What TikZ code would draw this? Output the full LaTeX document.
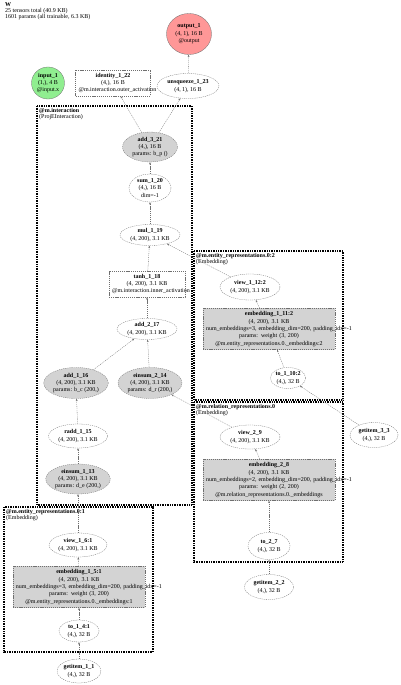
\documentclass[tikz,border=0pt]{standalone}
\usepackage{fontspec}
\setmainfont{Liberation Serif}
\usepackage{tikz}
\usetikzlibrary{arrows.meta,shapes.geometric}
\definecolor{OutputFill}{HTML}{FF9797}
\definecolor{InputFill}{HTML}{90EE90}
\definecolor{ParamFill}{HTML}{D3D3D3}
\definecolor{EdgeGray}{HTML}{6F6F6F}
\newcommand{\graphfont}{\fontsize{6}{7.4}\selectfont}
\newcommand{\clusterfont}{\fontsize{6}{6.2}\selectfont}

\tikzset{
    base/.style={draw=EdgeGray, line width=0.3pt, dash pattern=on 1.2pt off 0.9pt,
        inner sep=0pt, align=center, font=\graphfont},
    op/.style={base, ellipse},
    paramop/.style={op, fill=ParamFill},
    modbox/.style={base, rectangle, inner sep=3pt},
    embbox/.style={modbox, fill=ParamFill, minimum width=132pt, text width=126pt, minimum height=39pt},
    flow/.style={draw=EdgeGray, line width=0.3pt, dash pattern=on 1.2pt off 0.9pt,
        -{Stealth[length=2.4pt,width=1.8pt]}},
    cluster/.style={draw=black, line width=1.5pt, dash pattern=on 1pt off 0.7pt},
    clusterlabel/.style={anchor=north west, align=left, inner sep=0pt, font=\clusterfont}
}

\begin{document}
\begin{tikzpicture}[x=1pt, y=-1pt]
    \useasboundingbox (0,0) rectangle (400,685);

    % header
    \node[anchor=north west, align=left, inner sep=0pt, font=\clusterfont] (header) at (5,2)
        {\textbf{W}\\25 tensors total (40.9 KB)\\1601 params (all trainable, 6.3 KB)};

    % module boxes
    \draw[cluster] (37,106) rectangle (192,505);
    \draw[cluster] (194,251) rectangle (343,400);
    \draw[cluster] (194,402) rectangle (343,562);
    \draw[cluster] (4,507) rectangle (153,652);
    \node[clusterlabel] (lblint) at (39,108) {\textbf{@m.interaction}\\(ProjEInteraction)};
    \node[clusterlabel] (lblent2) at (196,253) {\textbf{@m.entity\_representations.0:2}\\(Embedding)};
    \node[clusterlabel] (lblrel) at (196,404) {\textbf{@m.relation\_representations.0}\\(Embedding)};
    \node[clusterlabel] (lblent1) at (6,509) {\textbf{@m.entity\_representations.0:1}\\(Embedding)};

    % outputs and inputs
    \node[op, draw=EdgeGray, solid, fill=OutputFill, minimum width=45pt, minimum height=41pt] (out1) at (189,34)
        {\textbf{output\_1}\\(4, 1), 16 B\\@output};
    \node[op, solid, fill=InputFill, minimum width=33pt, minimum height=32pt] (in1) at (48,83)
        {\textbf{input\_1}\\(1,), 4 B\\@input.x};
    \node[modbox, minimum width=75pt, minimum height=22pt, text width=69pt] (ident22) at (113,83)
        {\textbf{identity\_1\_22}\\(4,), 16 B\\\mbox{@m.interaction.outer\_activation}};
    \node[op, minimum width=62pt, minimum height=25pt] (unsq23) at (188,86)
        {\textbf{unsqueeze\_1\_23}\\(4, 1), 16 B};

    % interaction
    \node[paramop, minimum width=55pt, minimum height=30pt] (add321) at (150,147)
        {\textbf{add\_3\_21}\\(4,), 16 B\\params: b\_p ()};
    \node[op, minimum width=42pt, minimum height=28pt] (sum20) at (150,188)
        {\textbf{sum\_1\_20}\\(4,), 16 B\\dim=-1};
    \node[op, minimum width=60pt, minimum height=21pt] (mul19) at (150,235)
        {\textbf{mul\_1\_19}\\(4, 200), 3.1 KB};
    \node[modbox, minimum width=76pt, minimum height=25pt, text width=70pt] (tanh18) at (147,284)
        {\textbf{tanh\_1\_18}\\(4, 200), 3.1 KB\\\mbox{@m.interaction.inner\_activation}};
    \node[op, minimum width=60pt, minimum height=21pt] (add217) at (147,329)
        {\textbf{add\_2\_17}\\(4, 200), 3.1 KB};
    \node[paramop, minimum width=59pt, minimum height=31pt] (add116) at (76,383)
        {\textbf{add\_1\_16}\\(4, 200), 3.1 KB\\params: b\_c (200,)};
    \node[paramop, minimum width=64pt, minimum height=31pt] (ein214) at (150,383)
        {\textbf{einsum\_2\_14}\\(4, 200), 3.1 KB\\params: d\_r (200,)};
    \node[op, minimum width=59pt, minimum height=24pt] (radd15) at (78,436)
        {\textbf{radd\_1\_15}\\(4, 200), 3.1 KB};
    \node[paramop, minimum width=60pt, minimum height=30pt] (ein113) at (78,479)
        {\textbf{einsum\_1\_13}\\(4, 200), 3.1 KB\\params: d\_e (200,)};

    % entity representations 0:2
    \node[op, minimum width=60pt, minimum height=26pt] (view12) at (250,287)
        {\textbf{view\_1\_12:2}\\(4, 200), 3.1 KB};
    \node[embbox] (emb11) at (269,329)
        {\textbf{embedding\_1\_11:2}\\(4, 200), 3.1 KB\\\mbox{num\_embeddings=3, embedding\_dim=200, padding\_idx=-1}\\params: weight (3, 200)\\@m.entity\_representations.0.\_embeddings:2};
    \node[op, minimum width=35pt, minimum height=21pt] (to10) at (288,378)
        {\textbf{to\_1\_10:2}\\(4,), 32 B};
    \node[op, minimum width=48pt, minimum height=25pt] (get33) at (374,435)
        {\textbf{getitem\_3\_3}\\(4,), 32 B};

    % relation representations
    \node[op, minimum width=60pt, minimum height=24pt] (view29) at (250,437)
        {\textbf{view\_2\_9}\\(4, 200), 3.1 KB};
    \node[embbox] (emb28) at (269,480)
        {\textbf{embedding\_2\_8}\\(4, 200), 3.1 KB\\\mbox{num\_embeddings=2, embedding\_dim=200, padding\_idx=-1}\\params: weight (2, 200)\\@m.relation\_representations.0.\_embeddings};
    \node[op, minimum width=42pt, minimum height=27pt] (to27) at (269,546)
        {\textbf{to\_2\_7}\\(4,), 32 B};
    \node[op, minimum width=49pt, minimum height=25pt] (get22) at (269,587)
        {\textbf{getitem\_2\_2}\\(4,), 32 B};

    % entity representations 0:1
    \node[op, minimum width=58pt, minimum height=24pt] (view16) at (78,545)
        {\textbf{view\_1\_6:1}\\(4, 200), 3.1 KB};
    \node[embbox] (emb15) at (79,587)
        {\textbf{embedding\_1\_5:1}\\(4, 200), 3.1 KB\\\mbox{num\_embeddings=3, embedding\_dim=200, padding\_idx=-1}\\params: weight (3, 200)\\@m.entity\_representations.0.\_embeddings:1};
    \node[op, minimum width=40pt, minimum height=22pt] (to14) at (79,631)
        {\textbf{to\_1\_4:1}\\(4,), 32 B};
    \node[op, minimum width=35pt, minimum height=24pt] (get11) at (79,671)
        {\textbf{getitem\_1\_1}\\(4,), 32 B};

    % edges
    \draw[flow] (get11) -- (to14);
    \draw[flow] (to14) -- (emb15);
    \draw[flow] (emb15) -- (view16);
    \draw[flow] (view16) -- (ein113);
    \draw[flow] (ein113) -- (radd15);
    \draw[flow] (radd15) -- (add116);
    \draw[flow] (add116) -- (add217);
    \draw[flow] (get22) -- (to27);
    \draw[flow] (to27) -- (emb28);
    \draw[flow] (emb28) -- (view29);
    \draw[flow] (view29) -- (ein214);
    \draw[flow] (ein214) -- (add217);
    \draw[flow] (get33) -- (to10);
    \draw[flow] (to10) -- (emb11);
    \draw[flow] (emb11) -- (view12);
    \draw[flow] (view12) -- (mul19);
    \draw[flow] (add217) -- (tanh18);
    \draw[flow] (tanh18) -- (mul19);
    \draw[flow] (mul19) -- (sum20);
    \draw[flow] (sum20) -- (add321);
    \draw[flow] (add321) -- (ident22);
    \draw[flow] (add321) -- (unsq23);
    \draw[flow] (unsq23) -- (out1);
\end{tikzpicture}
\end{document}
